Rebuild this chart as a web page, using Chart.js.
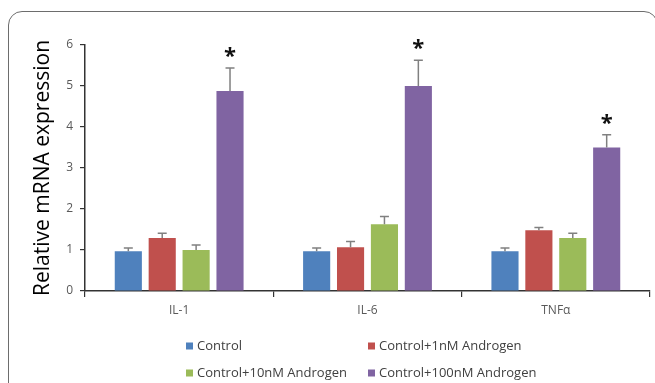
<!DOCTYPE html>
<html>
<head>
<meta charset="utf-8">
<script src="https://cdn.jsdelivr.net/npm/chart.js@4"></script>
<style>
  html, body { margin: 0; padding: 0; background: #fff; }
  #wrap { position: relative; width: 655px; height: 383px; overflow: hidden; }
  #frame {
    position: absolute; left: 8px; top: 11px; width: 650px; height: 420px;
    border: 1.5px solid #6d6d6d; border-radius: 14px 14px 0 0; box-sizing: border-box;
  }
  canvas { position: absolute; left: 0; top: 0; }
</style>
</head>
<body>
<div id="wrap">
  <div id="frame"></div>
  <canvas id="grafico" width="655" height="383"></canvas>
</div>
<script>
// categorías y series
const categorias = ["IL-1", "IL-6", "TNFα"];
const etiquetasY = [0, 1, 2, 3, 4, 5, 6];

const control      = [0.97, 0.97, 0.97];
const control1nM   = [1.29, 1.07, 1.48];
const control10nM  = [1.00, 1.63, 1.29];
const control100nM = [4.88, 5.00, 3.50];

// error estándar (solo hacia arriba)
const errControl      = [0.08, 0.08, 0.08];
const errControl1nM   = [0.12, 0.14, 0.07];
const errControl10nM  = [0.12, 0.19, 0.12];
const errControl100nM = [0.56, 0.63, 0.31];

// marcas de significancia (*)
const sigControl100nM = [true, true, true];

const FONT = "'Open Sans', 'Liberation Sans', sans-serif";

const series = [
  { label: "Control", data: control, errores: errControl, sig: [], color: "#4F81BD" },
  { label: "Control+1nM Androgen", data: control1nM, errores: errControl1nM, sig: [], color: "#C0504D" },
  { label: "Control+10nM Androgen", data: control10nM, errores: errControl10nM, sig: [], color: "#9BBB59" },
  { label: "Control+100nM Androgen", data: control100nM, errores: errControl100nM, sig: sigControl100nM, color: "#8064A2" }
];

const barrasError = {
  id: "barrasError",
  afterDatasetsDraw(chart) {
    const ctx = chart.ctx;
    const y = chart.scales.y;
    ctx.save();
    chart.data.datasets.forEach((ds, i) => {
      const meta = chart.getDatasetMeta(i);
      meta.data.forEach((bar, j) => {
        const yTop = y.getPixelForValue(ds.data[j] + ds.errores[j]);
        ctx.strokeStyle = "#808080";
        ctx.lineWidth = 1.5;
        ctx.beginPath();
        ctx.moveTo(bar.x, bar.y);
        ctx.lineTo(bar.x, yTop);
        ctx.moveTo(bar.x - 4.5, yTop);
        ctx.lineTo(bar.x + 4.5, yTop);
        ctx.stroke();
        if (ds.sig[j]) {
          ctx.fillStyle = "#111";
          ctx.font = "bold 22px " + FONT;
          ctx.textAlign = "center";
          ctx.textBaseline = "middle";
          ctx.fillText("*", bar.x, yTop - 11);
        }
      });
    });
    ctx.restore();
  }
};

// leyenda en dos columnas como en el original
const leyenda = {
  id: "leyenda",
  afterDraw(chart) {
    const ctx = chart.ctx;
    const cols = [186, 368];
    const filas = [346, 373];
    ctx.save();
    ctx.font = "13px " + FONT;
    ctx.textBaseline = "middle";
    ctx.textAlign = "left";
    chart.data.datasets.forEach((ds, i) => {
      const x = cols[i % 2];
      const yy = filas[Math.floor(i / 2)];
      ctx.fillStyle = ds.backgroundColor;
      ctx.fillRect(x, yy - 3.5, 7, 7);
      ctx.fillStyle = "#404040";
      ctx.fillText(ds.label, x + 11, yy);
    });
    ctx.restore();
  }
};

new Chart(document.getElementById("grafico").getContext("2d"), {
  type: "bar",
  data: {
    labels: categorias,
    datasets: series.map(s => ({
      label: s.label,
      data: s.data,
      errores: s.errores,
      sig: s.sig,
      backgroundColor: s.color,
      barPercentage: 0.8,
      categoryPercentage: 0.72
    }))
  },
  options: {
    responsive: false,
    animation: false,
    layout: { padding: { left: 30, right: 5, top: 45, bottom: 0 } },
    plugins: { legend: { display: false }, tooltip: { enabled: false } },
    scales: {
      x: {
        grid: { offset: true, drawOnChartArea: false, tickLength: 6, color: "#333", lineWidth: 1.2 },
        border: { color: "#333", width: 1.5 },
        ticks: { color: "#595959", font: { family: FONT, size: 12 }, padding: 6 },
        afterFit(scale) { scale.height = 92; }
      },
      y: {
        min: 0,
        max: 6,
        afterBuildTicks(scale) { scale.ticks = etiquetasY.map(v => ({ value: v })); },
        grid: { drawOnChartArea: false, tickLength: 5, color: "#333", lineWidth: 1.2 },
        border: { color: "#333", width: 1.5 },
        ticks: { color: "#595959", font: { family: FONT, size: 12 }, padding: 7 },
        title: { display: true, text: "Relative mRNA expression", color: "#000", font: { family: FONT, size: 21 }, padding: { top: 0, bottom: 4 } },
        afterFit(scale) { scale.width = 55; }
      }
    }
  },
  plugins: [barrasError, leyenda]
});
</script>
</body>
</html>
